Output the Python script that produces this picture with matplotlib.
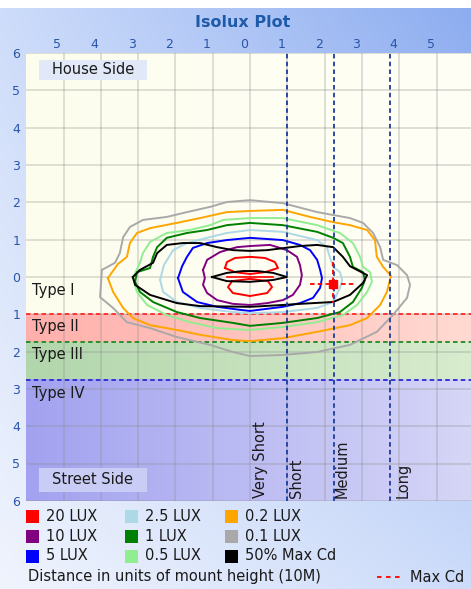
import numpy as np
import matplotlib.pyplot as plt
import matplotlib.transforms as mtransforms
from matplotlib.patches import Rectangle
from matplotlib.lines import Line2D

# axis ticks (units of mount height)
x_ticks = [-5, -4, -3, -2, -1, 0, 1, 2, 3, 4, 5]
x_tick_labels = ["5", "4", "3", "2", "1", "0", "1", "2", "3", "4", "5"]
y_ticks = [6, 5, 4, 3, 2, 1, 0, -1, -2, -3, -4, -5, -6]
y_tick_labels = ["6", "5", "4", "3", "2", "1", "0", "1", "2", "3", "4", "5", "6"]

# lateral type boundaries and labels
type_bounds = [-1.0, -1.75, -2.75]
type_names = ["Type I", "Type II", "Type III", "Type IV"]
type_label_y = [-0.35, -1.34, -2.09, -3.11]

# longitudinal distance boundaries and labels
dist_lines = [1.0, 2.25, 3.75]
dist_names = ["Very Short", "Short", "Medium", "Long"]
dist_label_x = [0.28, 1.24, 2.47, 4.1]

# max candela point and its cross-hair extent
max_cd = (2.23, -0.19)
max_cd_h = [1.6, 2.8]
max_cd_v = [0.40, -0.70]

# isolux lines (x, y)
lux_01 = [(-3.97, 0.19), (-3.62, 0.38), (-3.49, 0.64), (-3.40, 1.07), (-3.22, 1.34), (-2.87, 1.53),
          (-2.23, 1.61), (-1.69, 1.74), (-1.07, 1.88), (-0.62, 2.01), (0.0, 2.06), (0.88, 1.98),
          (1.80, 1.74), (2.68, 1.58), (3.03, 1.45), (3.30, 1.18), (3.49, 0.80), (3.57, 0.46),
          (3.94, 0.32), (4.21, 0.05), (4.29, -0.21), (4.21, -0.56), (3.83, -1.02), (3.40, -1.47),
          (2.68, -1.82), (1.80, -2.01), (0.88, -2.09), (0.0, -2.12), (-0.46, -2.01), (-1.07, -1.82),
          (-1.96, -1.61), (-2.68, -1.37), (-3.30, -1.21), (-3.67, -0.83), (-4.02, -0.54)]
lux_02 = [(-3.81, -0.03), (-3.54, 0.35), (-3.30, 0.54), (-3.22, 0.91), (-3.03, 1.18), (-2.68, 1.31),
          (-1.96, 1.45), (-1.34, 1.58), (-0.62, 1.74), (0.0, 1.77), (0.88, 1.80), (1.61, 1.61),
          (2.23, 1.47), (2.68, 1.39), (3.14, 1.26), (3.35, 0.99), (3.40, 0.54), (3.57, 0.27),
          (3.78, 0.03), (3.67, -0.40), (3.49, -0.75), (3.14, -1.10), (2.68, -1.29), (1.80, -1.47),
          (0.88, -1.64), (0.0, -1.72), (-0.46, -1.69), (-1.34, -1.55), (-1.96, -1.42), (-2.68, -1.29),
          (-3.14, -1.10), (-3.40, -0.83), (-3.67, -0.40)]
lux_05 = [(-3.14, -0.03), (-2.95, 0.38), (-2.87, 0.64), (-2.68, 0.94), (-2.23, 1.18), (-1.61, 1.26),
          (-1.07, 1.39), (-0.72, 1.53), (0.0, 1.58), (0.88, 1.58), (1.80, 1.39), (2.41, 1.18),
          (2.76, 0.91), (2.95, 0.54), (3.03, 0.27), (3.22, 0.13), (3.27, -0.13), (3.14, -0.40),
          (2.87, -0.75), (2.49, -1.02), (1.80, -1.21), (0.88, -1.34), (0.0, -1.42), (-0.88, -1.37),
          (-1.61, -1.21), (-2.23, -1.02), (-2.76, -0.75), (-3.03, -0.40)]
lux_1 = [(-3.08, -0.13), (-3.03, 0.13), (-2.68, 0.24), (-2.60, 0.54), (-2.49, 0.80), (-2.23, 1.05),
         (-1.69, 1.18), (-1.15, 1.26), (-0.62, 1.39), (0.0, 1.45), (0.88, 1.39), (1.80, 1.21),
         (2.23, 1.05), (2.49, 0.91), (2.68, 0.54), (2.76, 0.27), (3.03, 0.13), (3.08, -0.08),
         (3.00, -0.29), (2.76, -0.67), (2.41, -0.94), (1.80, -1.10), (0.88, -1.23), (0.0, -1.31),
         (-0.46, -1.23), (-1.34, -1.10), (-1.96, -0.94), (-2.60, -0.67), (-2.95, -0.40)]
lux_25 = [(-2.41, -0.08), (-2.31, 0.32), (-2.14, 0.59), (-2.06, 0.72), (-1.69, 0.91), (-1.15, 1.05),
          (-0.62, 1.18), (0.0, 1.26), (0.88, 1.21), (1.80, 0.99), (2.06, 0.80), (2.14, 0.54),
          (2.23, 0.27), (2.41, 0.13), (2.47, -0.08), (2.41, -0.29), (2.23, -0.67), (1.80, -0.83),
          (0.88, -0.94), (0.0, -0.97), (-0.46, -0.94), (-1.34, -0.83), (-1.96, -0.67), (-2.33, -0.40)]
lux_5 = [(-1.93, -0.03), (-1.82, 0.29), (-1.69, 0.54), (-1.53, 0.78), (-1.15, 0.91), (-0.62, 0.99),
         (0.0, 1.05), (0.88, 0.99), (1.34, 0.86), (1.61, 0.72), (1.80, 0.46), (1.88, 0.19),
         (1.93, -0.03), (1.88, -0.29), (1.69, -0.56), (1.34, -0.70), (0.88, -0.80), (0.0, -0.91),
         (-0.27, -0.88), (-0.88, -0.80), (-1.42, -0.67), (-1.80, -0.40)]
lux_10 = [(-1.26, 0.19), (-1.15, 0.46), (-0.80, 0.67), (-0.35, 0.80), (0.0, 0.83), (0.54, 0.86),
          (0.99, 0.72), (1.26, 0.54), (1.34, 0.32), (1.39, 0.05), (1.34, -0.21), (1.15, -0.48),
          (0.88, -0.62), (0.46, -0.70), (0.0, -0.75), (-0.46, -0.72), (-0.88, -0.62), (-1.15, -0.43),
          (-1.26, -0.21), (-1.21, -0.03)]
lux_20_upper = [(-0.67, 0.24), (-0.62, 0.40), (-0.40, 0.51), (0.0, 0.54), (0.40, 0.51), (0.67, 0.40),
                (0.75, 0.24), (0.40, 0.13), (0.0, 0.08), (-0.40, 0.13)]
lux_20_lower = [(-0.48, -0.11), (-0.59, -0.27), (-0.46, -0.43), (0.0, -0.51), (0.46, -0.43),
                (0.59, -0.27), (0.48, -0.11), (0.0, -0.05)]
lux_20_mid = [(-0.62, 0.0), (0.62, 0.0)]
half_cd_outer = [(-3.14, 0.0), (-2.95, 0.19), (-2.60, 0.38), (-2.49, 0.64), (-2.23, 0.86), (-1.80, 0.91),
                 (-1.34, 0.91), (-0.88, 0.80), (-0.46, 0.72), (0.0, 0.70), (0.46, 0.72), (0.94, 0.78),
                 (1.34, 0.83), (1.80, 0.86), (2.23, 0.80), (2.49, 0.54), (2.68, 0.29), (3.14, 0.05),
                 (3.03, -0.16), (2.68, -0.48), (2.23, -0.67), (1.34, -0.72), (0.88, -0.75), (0.0, -0.80),
                 (-1.34, -0.78), (-1.96, -0.70), (-2.68, -0.48), (-3.08, -0.21)]
half_cd_inner = [(-1.02, 0.0), (-0.62, 0.11), (-0.19, 0.16), (0.19, 0.16), (0.62, 0.11), (0.99, 0.0),
                 (0.62, -0.08), (0.0, -0.13), (-0.62, -0.11)]

# legend
legend_labels = ["20 LUX", "10 LUX", "5 LUX", "2.5 LUX", "1 LUX", "0.5 LUX",
                 "0.2 LUX", "0.1 LUX", "50% Max Cd"]
legend_colors = ["red", "purple", "blue", "lightblue", "green", "lightgreen",
                 "orange", "darkgray", "black"]

W, H = 471, 589
FS = 10.5
fig = plt.figure(figsize=(W / 100, H / 100), dpi=100)


def fx(px):
    return px / W


def fy(py):
    return 1 - py / H


# background of the whole panel
u = np.linspace(0, 1, W)[None, :, None]
v = np.linspace(0, 1, H)[:, None, None]
tl = np.array([205, 220, 250]); tr = np.array([140, 172, 240])
bl = np.array([240, 244, 253]); br = np.array([205, 220, 250])
img = (tl * (1 - u) * (1 - v) + tr * u * (1 - v) + bl * (1 - u) * v + br * u * v) / 255
img[:8] = 1.0
bg = fig.add_axes([0, 0, 1, 1], zorder=0)
bg.imshow(img, aspect="auto", extent=[0, 1, 0, 1], interpolation="bilinear")
bg.axis("off")

ax = fig.add_axes([fx(26.2), fy(500.8), 447.6 / W, 447.6 / H], zorder=1)
ax.set_facecolor("none")


def hgrad(c0, c1):
    t = np.linspace(0, 1, 64)[None, :, None]
    return (np.array(c0) * (1 - t) + np.array(c1) * t) / 255


bands = [(type_bounds[0], 6, (253, 253, 238), (255, 255, 246)),
         (type_bounds[1], type_bounds[0], (255, 176, 172), (255, 218, 210)),
         (type_bounds[2], type_bounds[1], (178, 214, 172), (216, 236, 206)),
         (-6, type_bounds[2], (162, 162, 240), (214, 214, 247))]
for y0, y1, c0, c1 in bands:
    ax.imshow(hgrad(c0, c1), extent=[-6, 6, y0, y1], aspect="auto", zorder=0,
              interpolation="bilinear")

ax.set_xlim(-6, 6)
ax.set_ylim(-6, 6)
ax.set_xticks(x_ticks)
ax.set_xticklabels(x_tick_labels)
ax.set_yticks(y_ticks)
ax.set_yticklabels(y_tick_labels)
ax.xaxis.tick_top()
ax.tick_params(axis="both", length=0, labelsize=9, labelcolor="#2a55a8")
ax.tick_params(axis="x", pad=1.5)
ax.tick_params(axis="y", pad=4.3)
offset = mtransforms.ScaledTranslation(-0.06, 0, fig.dpi_scale_trans)
for lab in ax.get_xticklabels():
    lab.set_transform(lab.get_transform() + offset)
for s in ax.spines.values():
    s.set_visible(False)
ax.grid(True, color="#8c8c8c", alpha=0.3, lw=1.3)
ax.set_title("Isolux Plot", fontsize=11.5, fontweight="bold", color="#1e5aa8", pad=19, x=0.483)

dash = (0, (2.5, 1.8))
for yb, c in zip(type_bounds, ["#ff2a2a", "#1f8a1f", "#2a2ad0"]):
    ax.axhline(yb, color=c, ls=dash, lw=1.3, zorder=2)

for name, yl in zip(type_names, type_label_y):
    ax.text(-5.84, yl, name, fontsize=FS, va="center", ha="left", color="#1a1a1a", zorder=5)

contours = [(lux_01, "darkgray"), (lux_02, "orange"), (lux_05, "lightgreen"), (lux_1, "green"),
            (lux_25, "lightblue"), (lux_5, "blue"), (lux_10, "purple"),
            (lux_20_upper, "red"), (lux_20_lower, "red"),
            (half_cd_outer, "black"), (half_cd_inner, "black")]
for pts, c in contours:
    xs = [p[0] for p in pts] + [pts[0][0]]
    ys = [p[1] for p in pts] + [pts[0][1]]
    ax.plot(xs, ys, color=c, lw=1.4, zorder=3, solid_joinstyle="round")
ax.plot([p[0] for p in lux_20_mid], [p[1] for p in lux_20_mid], color="red", lw=1.2, zorder=3)

for xl in dist_lines:
    ax.axvline(xl, color="#1c3c9c", ls=dash, lw=1.3, zorder=4)
for name, xl in zip(dist_names, dist_label_x):
    ax.text(xl, -5.93, name, rotation=90, fontsize=FS, ha="center", va="bottom",
            color="#1a1a1a", zorder=5)

ax.plot(max_cd_h, [max_cd[1]] * 2, color="red", ls=dash, lw=1.3, zorder=4)
ax.plot([max_cd[0]] * 2, max_cd_v, color="red", ls=dash, lw=1.3, zorder=4)
ax.plot(*max_cd, marker="s", ms=6, color="red", zorder=5)

# side boxes
ax.add_patch(Rectangle((-5.66, 5.28), 2.9, 0.54, facecolor="#e1e8f7", edgecolor="none", zorder=4))
ax.text(-4.21, 5.55, "House Side", fontsize=FS, ha="center", va="center", color="#1a1a1a", zorder=5)
ax.add_patch(Rectangle((-5.66, -5.76), 2.9, 0.64, facecolor="#c9cdf5", edgecolor="none", zorder=4))
ax.text(-4.21, -5.44, "Street Side", fontsize=FS, ha="center", va="center", color="#1a1a1a", zorder=5)

# legend below the plot
col_sq = [26, 125, 225]
col_tx = [46, 145, 245]
row_y = [516.5, 536.5, 556]
for i, (lab, c) in enumerate(zip(legend_labels, legend_colors)):
    col, row = divmod(i, 3)
    fig.add_artist(Rectangle((fx(col_sq[col]), fy(row_y[row] + 6.5)), 13 / W, 13 / H,
                             transform=fig.transFigure, facecolor=c, edgecolor="none"))
    fig.text(fx(col_tx[col]), fy(row_y[row]), lab, fontsize=FS, va="center", ha="left",
             color="#1a1a1a")
fig.text(fx(28), fy(577), "Distance in units of mount height (10M)", fontsize=FS,
         va="center", ha="left", color="#1a1a1a")
fig.add_artist(Line2D([fx(377), fx(403)], [fy(577), fy(577)], transform=fig.transFigure,
                      color="red", lw=1.3, ls=(0, (2.5, 2.5))))
fig.text(fx(410), fy(577), "Max Cd", fontsize=FS, va="center", ha="left", color="#1a1a1a")

fig.savefig("out.png", dpi=100)
